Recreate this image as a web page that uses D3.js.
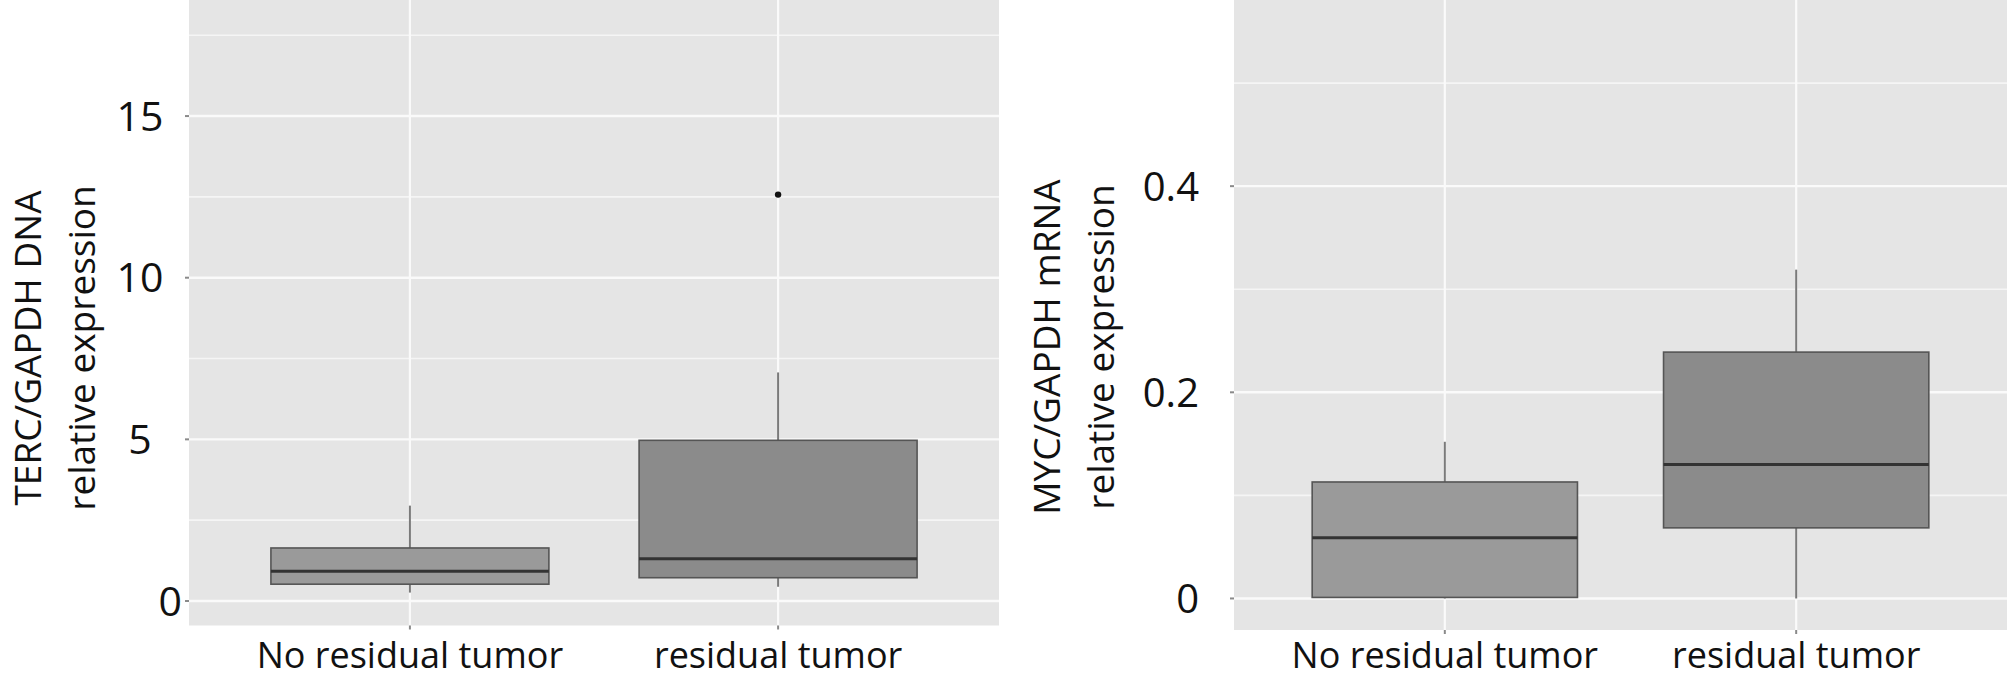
<!DOCTYPE html>
<html>
<head>
<meta charset="utf-8">
<script src="https://cdn.jsdelivr.net/npm/d3@7/dist/d3.min.js"></script>
<style>
  html, body { margin: 0; padding: 0; background: #ffffff; }
  svg { display: block; }
  text { font-family: "Open Sans", "Noto Sans", sans-serif; fill: #111; }
</style>
</head>
<body>
<svg id="chart" width="2008" height="679"></svg>
<script>
// ---------------- data ----------------
const categories = ["No residual tumor", "residual tumor"];

// TERC/GAPDH DNA (left panel)
const tercLower   = [0.26, 0.44];
const tercQ1      = [0.52, 0.72];
const tercMedian  = [0.92, 1.31];
const tercQ3      = [1.64, 4.97];
const tercUpper   = [2.95, 7.07];
const tercOutliers = [[], [12.57]];
const tercTicks   = [0, 5, 10, 15];
const tercTickLabels = ["0", "5", "10", "15"];
const tercTitle   = ["TERC/GAPDH DNA", "relative expression"];

// MYC/GAPDH mRNA (right panel)
const mycLower    = [0.0, 0.0];
const mycQ1       = [0.001, 0.0685];
const mycMedian   = [0.059, 0.130];
const mycQ3       = [0.113, 0.239];
const mycUpper    = [0.152, 0.319];
const mycOutliers = [[], []];
const mycTicks    = [0, 0.2, 0.4];
const mycTickLabels = ["0", "0.2", "0.4"];
const mycTitle    = ["MYC/GAPDH mRNA", "relative expression"];

const boxFills = ["#9a9a9a", "#8b8b8b"];

// ---------------- drawing ----------------
const svg = d3.select("#chart");

function panel(cfg) {
  const g = svg.append("g");
  const x = d3.scalePoint().domain(categories).range([cfg.left, cfg.right]).padding(0.6);
  const y = d3.scaleLinear().domain(cfg.domain).range([cfg.bottom, cfg.top]);
  const step = x.step();
  const bw = step * 0.755;

  // panel background
  g.append("rect")
    .attr("x", cfg.left).attr("y", cfg.top)
    .attr("width", cfg.right - cfg.left).attr("height", cfg.bottom - cfg.top)
    .attr("fill", "#e5e5e5");

  // minor gridlines (midpoints between major ticks, extended)
  const tstep = cfg.ticks[1] - cfg.ticks[0];
  const minor = [];
  for (let v = cfg.ticks[0] - tstep / 2; v <= cfg.domain[1]; v += tstep) {
    if (v >= cfg.domain[0]) minor.push(v);
  }
  g.selectAll(".minor").data(minor).enter().append("line")
    .attr("x1", cfg.left).attr("x2", cfg.right)
    .attr("y1", d => y(d)).attr("y2", d => y(d))
    .attr("stroke", "#f5f5f5").attr("stroke-width", 1.6);

  // major gridlines
  g.selectAll(".major").data(cfg.ticks).enter().append("line")
    .attr("x1", cfg.left).attr("x2", cfg.right)
    .attr("y1", d => y(d)).attr("y2", d => y(d))
    .attr("stroke", "#fafafa").attr("stroke-width", 2.4);

  g.selectAll(".vgrid").data(categories).enter().append("line")
    .attr("x1", d => x(d)).attr("x2", d => x(d))
    .attr("y1", cfg.top).attr("y2", cfg.bottom)
    .attr("stroke", "#fafafa").attr("stroke-width", 2.2);

  // whiskers
  categories.forEach((c, i) => {
    const cx = x(c);
    g.append("line")
      .attr("x1", cx).attr("x2", cx)
      .attr("y1", y(cfg.q3[i])).attr("y2", y(cfg.upper[i]))
      .attr("stroke", "#7a7a7a").attr("stroke-width", 2);
    g.append("line")
      .attr("x1", cx).attr("x2", cx)
      .attr("y1", y(cfg.q1[i])).attr("y2", y(cfg.lower[i]))
      .attr("stroke", "#7a7a7a").attr("stroke-width", 2);
  });

  // boxes
  g.selectAll(".box").data(categories).enter().append("rect")
    .attr("x", d => x(d) - bw / 2)
    .attr("width", bw)
    .attr("y", (d, i) => y(cfg.q3[i]))
    .attr("height", (d, i) => y(cfg.q1[i]) - y(cfg.q3[i]))
    .attr("fill", (d, i) => boxFills[i])
    .attr("stroke", "#555555").attr("stroke-width", 1.6);

  // medians
  g.selectAll(".med").data(categories).enter().append("line")
    .attr("x1", d => x(d) - bw / 2).attr("x2", d => x(d) + bw / 2)
    .attr("y1", (d, i) => y(cfg.median[i])).attr("y2", (d, i) => y(cfg.median[i]))
    .attr("stroke", "#333333").attr("stroke-width", 3);

  // outliers
  categories.forEach((c, i) => {
    g.selectAll(null).data(cfg.outliers[i]).enter().append("circle")
      .attr("cx", x(c)).attr("cy", d => y(d)).attr("r", 3.2)
      .attr("fill", "#111");
  });

  // y axis ticks and labels
  g.selectAll(".ytick").data(cfg.ticks).enter().append("line")
    .attr("x1", cfg.left - 4).attr("x2", cfg.left)
    .attr("y1", d => y(d)).attr("y2", d => y(d))
    .attr("stroke", "#8a8a8a").attr("stroke-width", 2);

  g.selectAll(".ylab").data(cfg.ticks).enter().append("text")
    .attr("x", (d, i) => cfg.labelX(d, i))
    .attr("y", d => y(d))
    .attr("dy", "0.36em")
    .attr("text-anchor", (d, i) => cfg.labelAnchor(d, i))
    .style("font-size", cfg.tickFont + "px")
    .text((d, i) => cfg.tickLabels[i]);

  // x axis ticks and labels
  g.selectAll(".xtick").data(categories).enter().append("line")
    .attr("x1", d => x(d)).attr("x2", d => x(d))
    .attr("y1", cfg.bottom).attr("y2", cfg.bottom + 4)
    .attr("stroke", "#8a8a8a").attr("stroke-width", 2);

  g.selectAll(".xlab").data(categories).enter().append("text")
    .attr("x", d => x(d))
    .attr("y", 668)
    .attr("text-anchor", "middle")
    .style("font-size", "36px")
    .text(d => d);

  // y title (two lines)
  const t = g.append("text")
    .attr("transform", `translate(${cfg.titleX},${cfg.titleY}) rotate(-90)`)
    .attr("text-anchor", "middle")
    .style("font-size", "37px");
  cfg.title.forEach((line, k) => {
    t.append("tspan").attr("x", 0).attr("dy", k === 0 ? 0 : 54).text(line);
  });
}

panel({
  left: 189, right: 999, top: 0, bottom: 625.5,
  domain: [-0.758, 18.59],
  ticks: tercTicks, tickLabels: tercTickLabels,
  lower: tercLower, q1: tercQ1, median: tercMedian, q3: tercQ3, upper: tercUpper,
  outliers: tercOutliers,
  tickFont: 41,
  labelX: d => d === 0 ? 182 : 140,
  labelAnchor: d => d === 0 ? "end" : "middle",
  title: tercTitle, titleX: 41, titleY: 348
});

panel({
  left: 1234, right: 2007, top: 0, bottom: 630,
  domain: [-0.0306, 0.5806],
  ticks: mycTicks, tickLabels: mycTickLabels,
  lower: mycLower, q1: mycQ1, median: mycMedian, q3: mycQ3, upper: mycUpper,
  outliers: mycOutliers,
  tickFont: 40,
  labelX: () => 1199,
  labelAnchor: () => "end",
  title: mycTitle, titleX: 1060, titleY: 347
});
</script>
</body>
</html>
